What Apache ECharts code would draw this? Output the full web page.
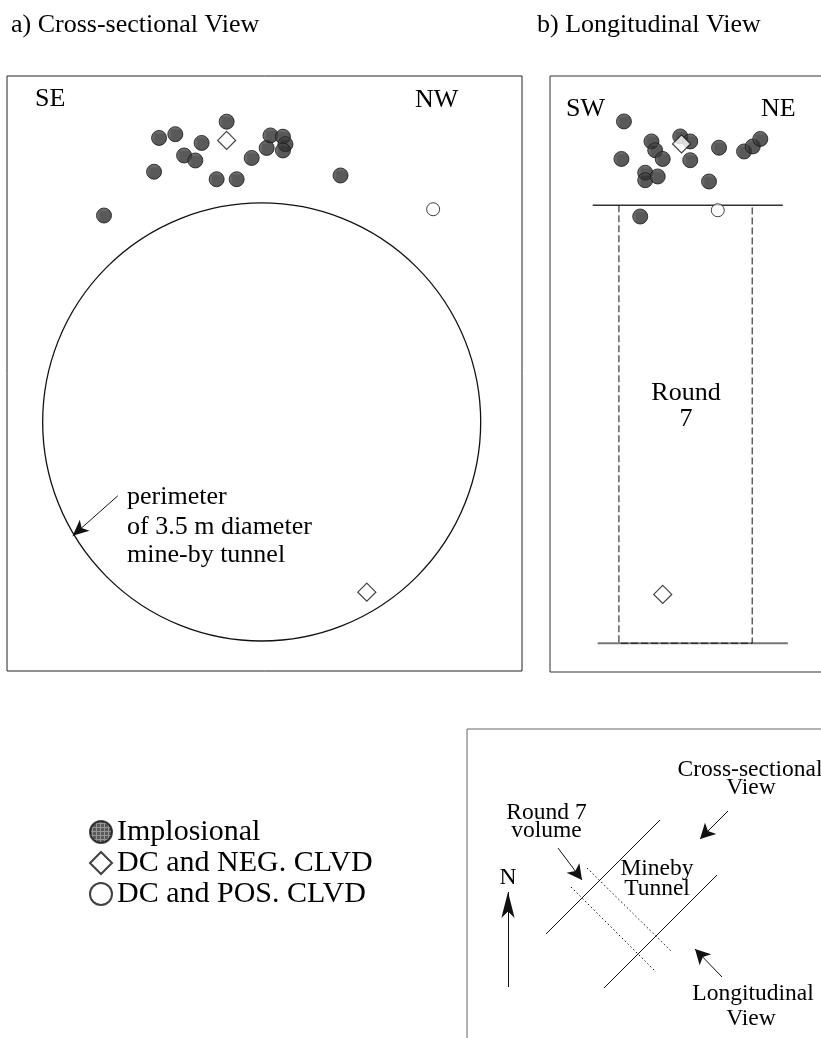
<!DOCTYPE html>
<html><head><meta charset="utf-8">
<script src="https://cdn.jsdelivr.net/npm/echarts@6/dist/echarts.min.js"></script>
<style>html,body{margin:0;padding:0;background:#fff}#c{width:821px;height:1038px}</style>
</head><body><div id="c"></div><script>
// ---------------- DATA (metres, relative to tunnel axis) ----------------
const tunnelDiameter = 3.5;
// a) Cross-sectional view: x = SE -> NW offset, y = elevation
const crossImplosional = [[-0.28,2.40],[-0.82,2.27],[-0.69,2.30],[-0.48,2.23],[-0.62,2.13],[-0.53,2.09],[-0.86,2.00],[-0.36,1.94],[-0.20,1.94],[-0.08,2.11],[0.04,2.19],[0.07,2.29],[0.17,2.28],[0.19,2.22],[0.17,2.17],[0.63,1.97],[-1.26,1.65]];
const crossNegCLVD = [[-0.28,2.25],[0.84,-1.36]];
const crossPosCLVD = [[1.37,1.70]];
const perimeterArrow = [[-1.15,-0.59],[-1.51,-0.91]];
// b) Longitudinal view: x = distance SW -> NE from start of Round 7, y = elevation
const longImplosional = [[0.04,2.42],[0.26,2.26],[0.29,2.19],[0.35,2.12],[0.02,2.12],[0.21,2.01],[0.21,1.95],[0.31,1.98],[0.49,2.30],[0.57,2.26],[0.57,2.11],[0.80,2.21],[0.72,1.94],[1.00,2.18],[1.07,2.22],[1.13,2.28],[0.17,1.66]];
const longNegCLVD = [[0.50,2.24],[0.35,-1.36]];
const longPosCLVD = [[0.79,1.71]];
const round7Length = 1.065;
const tunnelCrownLine = [[-0.21,1.75],[1.31,1.75]];
const tunnelInvertLine = [[-0.17,-1.75],[1.35,-1.75]];
const round7Outline = [[0,1.75],[0,-1.75],[1.065,-1.75],[1.065,1.75]];
// inset map (map units, origin at inset top-left, y downward)
const mapTunnelWallA = [[79,205],[193,91]];
const mapTunnelWallB = [[137,259],[250,146]];
const mapRoundEdgeA = [[120,139],[205,223]];
const mapRoundEdgeB = [[104,158],[189,243]];
const mapNorthArrow = [[41,258],[41,163]];
const mapArrowCross = [[261,82],[233,110]];
const mapArrowRound = [[91,119],[115,151]];
const mapArrowLong = [[255,248],[228,220]];
const legendNames = ['Implosional','DC and NEG. CLVD','DC and POS. CLVD'];

// ---------------- STYLE ----------------
const FONT = '"Liberation Serif","Times New Roman",Times,serif';
function hatch(){
  const c = document.createElement('canvas'); c.width = 4; c.height = 4;
  const g = c.getContext('2d');
  g.fillStyle = '#303030'; g.fillRect(0,0,4,4);
  g.fillStyle = '#7c7c7c'; g.fillRect(0,2,4,1); g.fillRect(2,0,1,4);
  return c;
}
const hatchFill = {image: hatch(), repeat: 'repeat'};
const dotStyle = {color: hatchFill, borderColor: '#151515', borderWidth: 1};
const diamondStyle = {color: '#fff', borderColor: '#111', borderWidth: 1.2};
const openStyle = {color: '#fff', borderColor: '#111', borderWidth: 1};

function txt(text, x, baseline, fs, align){
  return {type:'text', x:x, y:baseline - 0.32*fs, silent:true, z:100,
    style:{text:text, font: fs+'px '+FONT, fill:'#000', align: align||'left', verticalAlign:'middle'}};
}
function arrowML(seg, size){
  return {silent:true, animation:false, symbol:['none','arrow'], label:{show:false},
    emphasis:{disabled:true}, lineStyle:{color:'#111', width:1, type:'solid'},
    data:[[{coord:seg[0], symbol:'none'},{coord:seg[1], symbol:'arrow', symbolSize:size}]]};
}
function scat(name, data, sym, size, style, xi, z){
  return {type:'scatter', name:name, data:data, symbol:sym, symbolSize:size, itemStyle:style,
    xAxisIndex:xi, yAxisIndex:xi, z:z, silent:true};
}
function seg(data, xi, style, z, ml){
  const s = {type:'line', data:data, xAxisIndex:xi, yAxisIndex:xi, showSymbol:false, symbol:'none',
    lineStyle:style, z:z||2, silent:true};
  if (ml) s.markLine = ml;
  return s;
}

const chart = echarts.init(document.getElementById('c'), null, {renderer:'canvas'});
chart.setOption({
  animation:false,
  backgroundColor:'#fff',
  grid:[
    {left:7, top:76, width:515, height:595, show:true, borderColor:'#222', borderWidth:1, backgroundColor:'transparent', outerBoundsMode:'none'},
    {left:550, top:76, width:280, height:596, show:true, borderColor:'#333', borderWidth:1, backgroundColor:'transparent', outerBoundsMode:'none'},
    {left:467, top:729, width:370, height:330, show:true, borderColor:'#666', borderWidth:1, backgroundColor:'transparent', outerBoundsMode:'none'}
  ],
  xAxis:[
    {type:'value', gridIndex:0, min:-2.035, max:2.08, show:false},
    {type:'value', gridIndex:1, min:-0.551, max:1.687, show:false},
    {type:'value', gridIndex:2, min:0, max:370, show:false}
  ],
  yAxis:[
    {type:'value', gridIndex:0, min:-1.99, max:2.765, show:false},
    {type:'value', gridIndex:1, min:-1.98, max:2.783, show:false},
    {type:'value', gridIndex:2, min:0, max:330, inverse:true, show:false}
  ],
  legend:{
    data:legendNames, orient:'vertical', left:89, top:817, padding:0, itemWidth:22, itemHeight:22, itemGap:1,
    selectedMode:false, textStyle:{fontFamily:FONT, fontSize:30, color:'#000'}
  },
  series:[
    {type:'custom', xAxisIndex:0, yAxisIndex:0, silent:true, z:1, data:[[0,0,tunnelDiameter/2]],
      renderItem:function(params, api){
        const c = api.coord([api.value(0), api.value(1)]);
        const r = api.size([api.value(2), 0])[0];
        return {type:'circle', shape:{cx:c[0], cy:c[1], r:r}, style:{fill:'none', stroke:'#111', lineWidth:1.3}};
      }},
    seg([], 0, {width:0}, 2, arrowML(perimeterArrow, [11,16])),
    scat(legendNames[0], crossImplosional, 'circle', 15, dotStyle, 0, 5),
    scat(legendNames[1], crossNegCLVD, 'diamond', 18, diamondStyle, 0, 6),
    scat(legendNames[2], crossPosCLVD, 'circle', 13, openStyle, 0, 6),

    seg(tunnelCrownLine, 1, {color:'#333', width:1.3}),
    seg(tunnelInvertLine, 1, {color:'#777', width:2}),
    seg(round7Outline, 1, {color:'#111', width:1, type:[7,3]}, 3),
    scat(legendNames[0], longImplosional, 'circle', 15, dotStyle, 1, 5),
    scat(legendNames[1], longNegCLVD, 'diamond', 18, diamondStyle, 1, 6),
    scat(legendNames[2], longPosCLVD, 'circle', 13, openStyle, 1, 6),

    seg(mapTunnelWallA, 2, {color:'#111', width:1}),
    seg(mapTunnelWallB, 2, {color:'#111', width:1}),
    seg(mapRoundEdgeA, 2, {color:'#111', width:1, type:[1.5,2.5]}),
    seg(mapRoundEdgeB, 2, {color:'#111', width:1, type:[1.5,2.5]}),
    seg([], 2, {width:0}, 2, arrowML(mapNorthArrow, [10,26])),
    seg([], 2, {width:0}, 2, arrowML(mapArrowCross, [12,15])),
    seg([], 2, {width:0}, 2, arrowML(mapArrowRound, [12,15])),
    seg([], 2, {width:0}, 2, arrowML(mapArrowLong, [12,15]))
  ],
  graphic:[
    txt('a) Cross-sectional View', 11, 33, 26),
    txt('b) Longitudinal View', 537, 33, 26),
    txt('SE', 35, 107.5, 26),
    txt('NW', 415, 108, 26),
    txt('SW', 566, 117, 26),
    txt('NE', 761, 117, 26),
    txt('perimeter', 127, 505, 26),
    txt('of 3.5 m diameter', 127, 535, 26),
    txt('mine-by tunnel', 127, 563, 26),
    txt('Round', 686, 401, 26, 'center'),
    txt('7', 686, 427, 26, 'center'),
    txt('Cross-sectional', 750, 777, 23.5, 'center'),
    txt('View', 751, 795.5, 23.5, 'center'),
    txt('Round 7', 546.5, 820, 23.5, 'center'),
    txt('volume', 546.5, 838.5, 23.5, 'center'),
    txt('N', 508, 885, 23.5, 'center'),
    txt('Mineby', 657, 876.5, 23.5, 'center'),
    txt('Tunnel', 657, 896.5, 23.5, 'center'),
    txt('Longitudinal', 753, 1001, 23.5, 'center'),
    txt('View', 751, 1026.5, 23.5, 'center')
  ]
});
</script></body></html>
